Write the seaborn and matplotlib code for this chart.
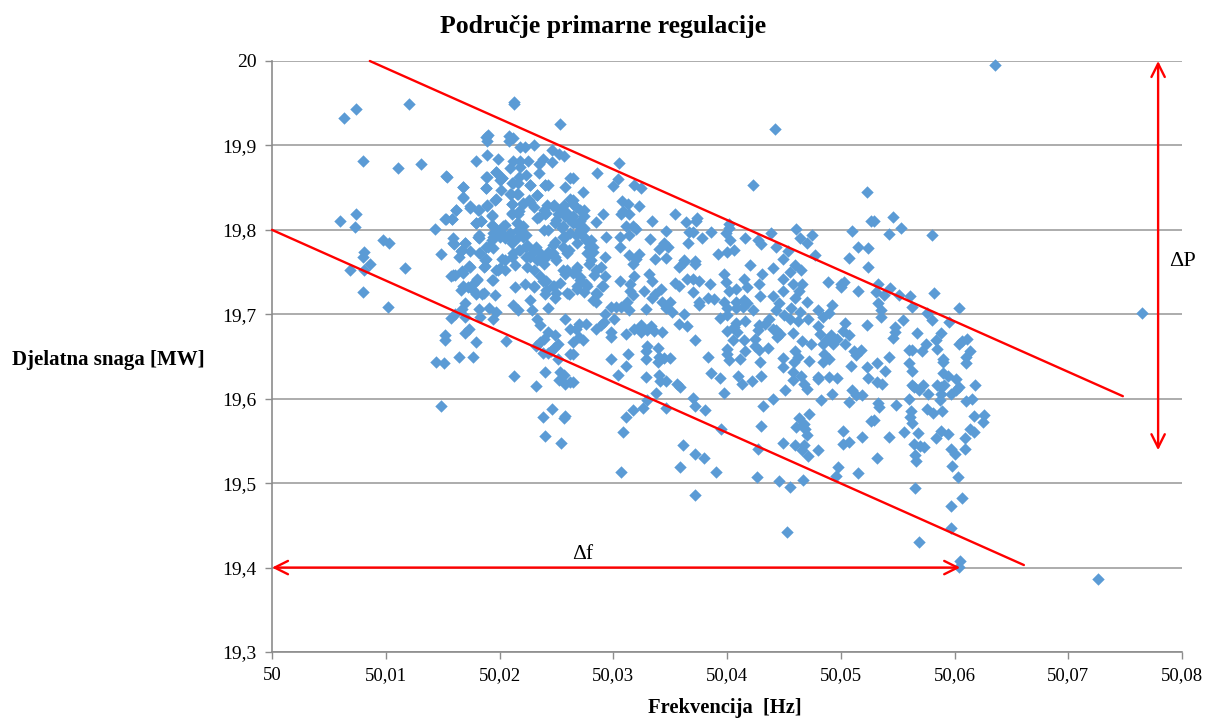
import matplotlib
matplotlib.use('Agg')
import matplotlib.pyplot as plt
import pandas as pd
import seaborn as sns

# frequency offsets above 50 Hz, in 0.0001 Hz steps, and power in MW
offs_a = [63,74,120,213,213,253,188,190,189,208,212,208,230,218,222,246,252,257,80,111,131,179,189,199,212,218,225,218,209,238,235,246,197,188,202,235,217,223,262,154,168,188,211,216,227,240,243,258,201,210,216,233,168,197,262,211,226,221,230,242,248,257,174,182,189,162,74,60,73,193,211,216,235,240,251,258,152,158,179,184,194,205,216,221,239,249,261,143,194,202,216,223,243,255,182,98,103,159,182,194,205,216,258,160,170,188,194,211,223,232,249,81,80,149,166,174,182,217,229,243,261,164,188,202,211,223,235,249]
power_a = [19.933,19.943,19.949,19.951,19.949,19.925,19.910,19.912,19.905,19.911,19.909,19.905,19.901,19.898,19.898,19.894,19.890,19.888,19.881,19.873,19.878,19.881,19.889,19.884,19.882,19.882,19.881,19.875,19.873,19.884,19.878,19.880,19.869,19.863,19.862,19.867,19.863,19.865,19.862,19.863,19.851,19.849,19.855,19.855,19.853,19.853,19.853,19.851,19.847,19.843,19.843,19.841,19.838,19.837,19.837,19.831,19.835,19.832,19.827,19.829,19.829,19.830,19.826,19.824,19.828,19.824,19.819,19.810,19.803,19.817,19.819,19.819,19.815,19.819,19.819,19.817,19.813,19.813,19.808,19.810,19.805,19.806,19.808,19.805,19.800,19.808,19.813,19.801,19.796,19.796,19.800,19.794,19.800,19.802,19.794,19.788,19.785,19.790,19.790,19.792,19.790,19.792,19.792,19.783,19.784,19.780,19.778,19.784,19.780,19.780,19.786,19.774,19.768,19.771,19.775,19.775,19.773,19.776,19.772,19.774,19.776,19.768,19.765,19.765,19.768,19.768,19.766,19.768]

offs_b = [69,81,86,117,80,102,157,161,168,173,187,166,172,177,180,179,185,194,199,205,214,196,214,222,230,238,248,258,261,240,249,227,170,167,212,216,229,243,182,191,197,157,161,170,183,194,233,236,258,262,152,152,170,173,179,206,243,239,249,236,248,251,245,232,238,243,262,251,164,177,144,151,240,253,257,213,252,258,262,232,149,246,238,257,258,240,254]
power_b = [19.753,19.752,19.760,19.755,19.726,19.709,19.745,19.747,19.749,19.757,19.757,19.729,19.732,19.736,19.742,19.724,19.724,19.741,19.752,19.752,19.758,19.723,19.732,19.736,19.732,19.740,19.734,19.748,19.724,19.724,19.719,19.717,19.713,19.706,19.711,19.705,19.705,19.708,19.706,19.708,19.703,19.696,19.700,19.697,19.697,19.695,19.694,19.687,19.694,19.683,19.675,19.669,19.678,19.682,19.667,19.668,19.679,19.671,19.675,19.667,19.660,19.665,19.657,19.662,19.654,19.654,19.653,19.647,19.650,19.650,19.644,19.642,19.632,19.632,19.628,19.627,19.622,19.617,19.620,19.615,19.591,19.588,19.578,19.577,19.579,19.556,19.548]

offs_c = [442,305,286,265,304,300,318,324,273,423,523,308,313,323,291,307,309,314,354,334,285,311,317,320,364,374,373,402,346,367,370,386,399,402,439,461,475,464,470,510,527,294,314,306,332,378,403,416,427,430,443,454,515,524,366,345,348,340,306,392,400,406,477,293,314,323,337,346,449,507,372,362,320,279,282,276,273,274,267,271,265,274,267,265,268,268]
power_c = [19.920,19.879,19.867,19.862,19.860,19.852,19.853,19.850,19.845,19.853,19.845,19.834,19.831,19.828,19.819,19.819,19.822,19.819,19.819,19.810,19.809,19.805,19.805,19.801,19.809,19.814,19.810,19.807,19.799,19.798,19.798,19.798,19.796,19.802,19.796,19.801,19.794,19.790,19.785,19.799,19.810,19.791,19.794,19.791,19.789,19.790,19.788,19.790,19.788,19.783,19.780,19.775,19.780,19.778,19.784,19.785,19.780,19.777,19.780,19.771,19.774,19.776,19.770,19.768,19.770,19.771,19.766,19.767,19.766,19.767,19.763,19.764,19.765,19.780,19.774,19.788,19.800,19.802,19.794,19.811,19.817,19.823,19.827,19.835,19.807,19.784]

offs_d = [267,271,276,268,274,279,289,283,293,290,286,285,306,315,318,317,315,317,331,334,327,334,342,337,354,358,365,370,370,375,385,358,362,372,397,399,402,408,415,418,429,428,431,420,440,449,455,460,465,458,466,463,440,449,460,470,489,500,503,500,515,524,298,302,307,312,314,329,343,350,346,352,375,375,383,389,397,408,415,418,400,408,414,423,443,446,456,480,492,490]
power_d = [19.752,19.744,19.736,19.730,19.726,19.760,19.756,19.746,19.745,19.734,19.724,19.715,19.739,19.736,19.745,19.759,19.728,19.723,19.748,19.740,19.728,19.719,19.730,19.724,19.737,19.734,19.742,19.726,19.742,19.739,19.736,19.756,19.762,19.759,19.748,19.738,19.728,19.730,19.742,19.732,19.722,19.736,19.748,19.758,19.755,19.742,19.750,19.758,19.753,19.736,19.736,19.728,19.722,19.728,19.719,19.715,19.738,19.736,19.738,19.732,19.728,19.756,19.709,19.709,19.709,19.715,19.705,19.706,19.715,19.715,19.707,19.703,19.715,19.711,19.719,19.718,19.715,19.715,19.717,19.713,19.707,19.707,19.709,19.705,19.705,19.713,19.707,19.705,19.711,19.702]

offs_e = [293,301,362,394,400,464,450,455,462,471,484,504,523,437,433,416,408,358,365,276,270,289,292,285,324,333,318,324,330,336,343,311,298,298,267,270,265,273,372,400,406,409,405,415,427,425,428,443,447,440,444,458,480,502,507,466,474,482,487,491,497,484,493,504]
power_e = [19.700,19.694,19.700,19.696,19.699,19.703,19.699,19.695,19.692,19.694,19.697,19.690,19.687,19.694,19.689,19.692,19.690,19.689,19.686,19.689,19.689,19.687,19.691,19.683,19.687,19.686,19.682,19.679,19.681,19.680,19.679,19.677,19.679,19.673,19.683,19.673,19.667,19.669,19.670,19.680,19.685,19.679,19.669,19.670,19.681,19.671,19.687,19.681,19.677,19.683,19.673,19.678,19.686,19.680,19.676,19.668,19.665,19.677,19.669,19.675,19.671,19.665,19.665,19.665]

offs_f = [330,329,339,313,265,298,329,340,345,350,339,383,400,400,402,411,416,425,428,436,429,449,460,462,459,472,485,490,484,512,518,513,311,304,449,458,509,523,329,340,341,346,356,359,386,394,410,413,422,430,465,458,468,470,480,480,490,497,524,451,338,397,492,510,513,519,483,507,440,370,265]
power_f = [19.663,19.657,19.660,19.653,19.653,19.647,19.647,19.649,19.648,19.648,19.644,19.649,19.659,19.653,19.646,19.647,19.657,19.662,19.658,19.660,19.644,19.648,19.657,19.649,19.644,19.645,19.653,19.647,19.644,19.657,19.658,19.652,19.639,19.628,19.637,19.632,19.639,19.637,19.626,19.628,19.621,19.621,19.618,19.614,19.631,19.624,19.627,19.617,19.621,19.627,19.627,19.622,19.618,19.612,19.626,19.623,19.626,19.624,19.624,19.610,19.607,19.607,19.605,19.610,19.604,19.604,19.599,19.596,19.600,19.601,19.620]

offs_g = [330,346,372,381,326,317,311,432,309,395,430,463,472,468,461,469,470,502,519,527,507,502,449,460,468,466,471,480,427,361,372,380,307,359,390,426,446,455,467,498,496,515,372,453]
power_g = [19.598,19.589,19.591,19.587,19.589,19.587,19.578,19.591,19.560,19.564,19.568,19.577,19.582,19.570,19.566,19.564,19.557,19.562,19.555,19.574,19.549,19.546,19.547,19.545,19.545,19.539,19.532,19.539,19.541,19.545,19.534,19.530,19.513,19.519,19.513,19.507,19.503,19.495,19.504,19.519,19.509,19.512,19.486,19.442]

offs_h = [529,546,553,542,580,533,543,531,538,551,561,582,533,535,563,604,576,535,580,555,595,765,548,548,546,567,588,584,575,611,607,604,614,560,563,571,585,542,590,610,636]
power_h = [19.811,19.815,19.802,19.795,19.794,19.736,19.731,19.726,19.723,19.723,19.722,19.725,19.713,19.705,19.709,19.708,19.701,19.697,19.693,19.693,19.691,19.702,19.685,19.679,19.672,19.678,19.678,19.669,19.665,19.671,19.668,19.665,19.657,19.658,19.658,19.657,19.659,19.650,19.647,19.650,19.995]

offs_i = [532,539,560,563,590,610,590,594,601,532,536,563,564,572,569,585,591,588,604,601,618,577,588,587,597,560,610,615,533,534,549,562,576,581,589,561,563,617,626,625,529,556,568,588,594,584,542,614,617,609,564,570,573,597,609,600,565,532,566,598,603,565,607,597,597,569,605,604,726]
power_i = [19.642,19.633,19.642,19.633,19.644,19.642,19.631,19.627,19.623,19.620,19.618,19.616,19.614,19.616,19.610,19.616,19.616,19.614,19.614,19.610,19.616,19.605,19.605,19.599,19.605,19.600,19.597,19.600,19.595,19.590,19.593,19.585,19.588,19.583,19.586,19.578,19.571,19.579,19.581,19.573,19.575,19.561,19.559,19.562,19.558,19.553,19.555,19.564,19.560,19.553,19.546,19.544,19.543,19.541,19.540,19.535,19.533,19.530,19.526,19.520,19.507,19.494,19.482,19.473,19.447,19.430,19.408,19.401,19.387]

# dense core
offs_j = [197,203,193,215,218,209,200,212,221,224,230,236,218,212,227,233,241,247,250,239,224,230,247,256,262,271,274,280,282,277,280,256,259,241,247,253,259,265,271,274,250,256,265,239,233,221,227,233,212,215,209,227,240,236,241,247,253,259,265,271,277,268,285,291,285,282,259,250,241,230,268,256,197,200,193,180,168,177,186,159,167,174,186,187,205,167,170,159,181,190,193,183,200,196,189,174,181,168,168,188,189,197,202,153,162,153,158,179,184,193,211,217,211]
power_j = [19.800,19.804,19.806,19.808,19.800,19.796,19.792,19.788,19.792,19.782,19.776,19.772,19.776,19.772,19.768,19.764,19.768,19.772,19.764,19.760,19.756,19.753,19.782,19.792,19.796,19.800,19.792,19.788,19.780,19.772,19.764,19.780,19.772,19.820,19.828,19.824,19.820,19.831,19.824,19.816,19.812,19.804,19.808,19.824,19.814,19.831,19.833,19.841,19.855,19.843,19.843,19.853,19.853,19.745,19.739,19.733,19.737,19.753,19.749,19.741,19.733,19.733,19.753,19.733,19.725,19.717,19.725,19.725,19.729,19.733,19.756,19.753,19.753,19.755,19.741,19.741,19.733,19.729,19.725,19.747,19.751,19.756,19.756,19.764,19.764,19.776,19.784,19.784,19.792,19.780,19.788,19.772,19.859,19.835,19.830,19.828,19.824,19.839,19.851,19.849,19.863,19.869,19.861,19.864,19.824,19.813,19.813,19.808,19.811,19.818,19.820,19.822,19.831]

x_ticks = [50, 50.01, 50.02, 50.03, 50.04, 50.05, 50.06, 50.07, 50.08]
x_labels = ['50', '50,01', '50,02', '50,03', '50,04', '50,05', '50,06', '50,07', '50,08']
y_ticks = [19.3, 19.4, 19.5, 19.6, 19.7, 19.8, 19.9, 20]
y_labels = ['19,3', '19,4', '19,5', '19,6', '19,7', '19,8', '19,9', '20']

offs = offs_a + offs_b + offs_c + offs_d + offs_e + offs_f + offs_g + offs_h + offs_i + offs_j
power = power_a + power_b + power_c + power_d + power_e + power_f + power_g + power_h + power_i + power_j
df = pd.DataFrame({'freq': [50 + o / 10000 for o in offs], 'power': power})

sns.set_style('white')
plt.rcParams['font.family'] = ['Liberation Serif', 'DejaVu Serif']
plt.rcParams['text.color'] = 'black'
plt.rcParams['xtick.color'] = 'black'
plt.rcParams['ytick.color'] = 'black'

fig = plt.figure(figsize=(12.07, 7.18), dpi=100)
ax = fig.add_axes([272 / 1207, 1 - 652 / 718, 910 / 1207, 591 / 718])

sns.scatterplot(data=df, x='freq', y='power', marker='D', s=40, color='#5B9BD5',
                linewidth=0, ax=ax, zorder=3, clip_on=False)

ax.set_xlim(50, 50.08)
ax.set_ylim(19.3, 20)
ax.set_xticks(x_ticks)
ax.set_xticklabels(x_labels, fontsize=13.5)
ax.set_yticks(y_ticks)
ax.set_yticklabels(y_labels, fontsize=14)
ax.tick_params(axis='both', length=5, width=1, color='#8c8c8c', pad=6, bottom=True, left=True)
ax.grid(axis='y', color='#969696', linewidth=1.1)
ax.set_axisbelow(True)
for side in ['top', 'right']:
    ax.spines[side].set_visible(False)
for side in ['left', 'bottom']:
    ax.spines[side].set_color('#8c8c8c')
    ax.spines[side].set_linewidth(1.2)

ax.set_xlabel('')
ax.set_ylabel('')
fig.text(603 / 1207, 1 - 26 / 718, 'Područje primarne regulacije', fontsize=18.5, fontweight='bold',
         ha='center', va='center')
fig.text(12 / 1207, 1 - 360 / 718, 'Djelatna snaga [MW]', fontsize=15, fontweight='bold',
         ha='left', va='center')
fig.text(725 / 1207, 1 - 708 / 718, 'Frekvencija  [Hz]', fontsize=14.8, fontweight='bold',
         ha='center', va='center')

# red hand drawn band and range arrows
ax.plot([50.0086, 50.0748], [20, 19.603], color='#ff0000', lw=1.7, zorder=4, clip_on=False)
ax.plot([50, 50.0661], [19.8, 19.403], color='#ff0000', lw=1.7, zorder=4, clip_on=False)
arrow = dict(arrowstyle='<->', color='#ff0000', lw=1.7, mutation_scale=24, shrinkA=0, shrinkB=0)
ax.annotate('', xy=(50, 19.4), xytext=(50.0605, 19.4), arrowprops=arrow, zorder=4)
ax.annotate('', xy=(50.0779, 20), xytext=(50.0779, 19.539), arrowprops=arrow, zorder=4)
ax.text(50.0273, 19.404, 'Δf', fontsize=15.5, ha='center', va='bottom')
ax.text(50.0800, 19.763, 'ΔP', fontsize=16, ha='center', va='center', clip_on=False)

fig.savefig('out.png', dpi=100, facecolor='white')
